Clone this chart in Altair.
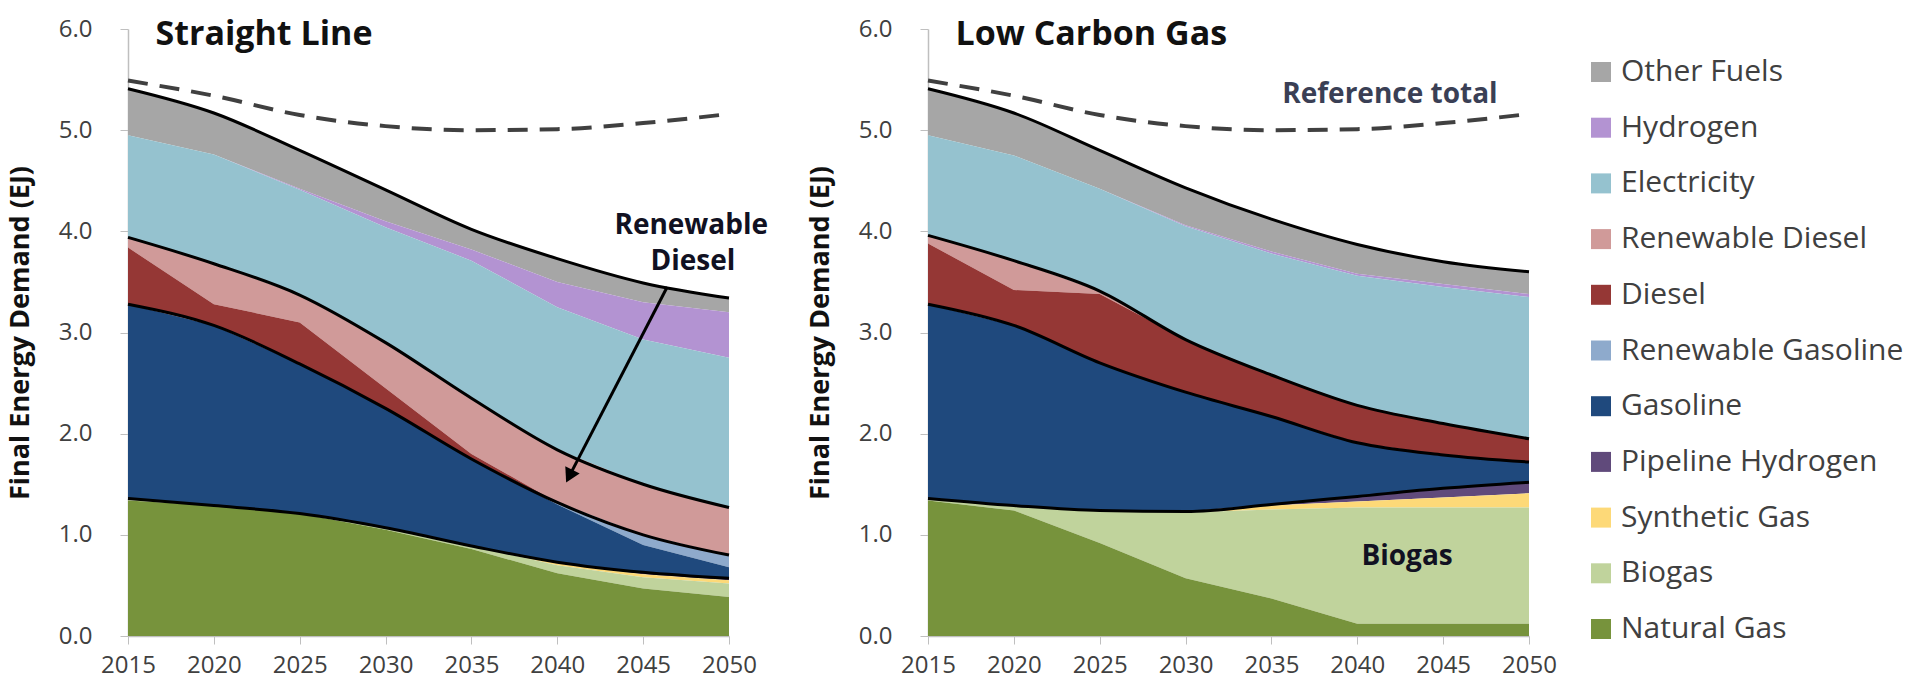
import altair as alt
import pandas as pd

years = [2015, 2020, 2025, 2030, 2035, 2040, 2045, 2050]
y_ticks = [0, 1, 2, 3, 4, 5, 6]

fuels = ["Other Fuels", "Hydrogen", "Electricity", "Renewable Diesel", "Diesel",
         "Renewable Gasoline", "Gasoline", "Pipeline Hydrogen", "Synthetic Gas",
         "Biogas", "Natural Gas"]
colors = ["#a6a6a6", "#b393d2", "#95c2cf", "#d09a99", "#953735", "#8eaacc",
          "#1f497d", "#604a7b", "#fdd978", "#c0d39c", "#77933c"]

# --- Straight Line scenario (EJ, layer thickness) ---
sl_other = [0.46, 0.41, 0.38, 0.31, 0.20, 0.23, 0.19, 0.14]
sl_hydrogen = [0.00, 0.00, 0.01, 0.06, 0.11, 0.25, 0.37, 0.45]
sl_electricity = [1.01, 1.08, 1.04, 1.14, 1.36, 1.41, 1.43, 1.48]
sl_ren_diesel = [0.10, 0.40, 0.27, 0.45, 0.55, 0.52, 0.50, 0.47]
sl_diesel = [0.56, 0.21, 0.41, 0.20, 0.05, 0.00, 0.00, 0.00]
sl_ren_gasoline = [0.00, 0.00, 0.00, 0.00, 0.00, 0.02, 0.10, 0.12]
sl_gasoline = [1.92, 1.78, 1.48, 1.18, 0.86, 0.57, 0.27, 0.11]
sl_pipeline_h2 = [0.00, 0.00, 0.00, 0.00, 0.00, 0.01, 0.02, 0.02]
sl_synthetic_gas = [0.00, 0.00, 0.00, 0.00, 0.00, 0.02, 0.03, 0.03]
sl_biogas = [0.02, 0.00, 0.00, 0.02, 0.03, 0.08, 0.11, 0.135]
sl_natural_gas = [1.34, 1.29, 1.21, 1.05, 0.86, 0.62, 0.47, 0.385]

# --- Low Carbon Gas scenario ---
lcg_other = [0.46, 0.42, 0.38, 0.37, 0.32, 0.29, 0.22, 0.22]
lcg_hydrogen = [0.00, 0.00, 0.00, 0.01, 0.02, 0.02, 0.03, 0.03]
lcg_electricity = [0.99, 1.04, 1.01, 1.12, 1.20, 1.28, 1.35, 1.40]
lcg_ren_diesel = [0.08, 0.29, 0.03, 0.00, 0.00, 0.00, 0.00, 0.00]
lcg_diesel = [0.60, 0.35, 0.68, 0.52, 0.41, 0.37, 0.31, 0.23]
lcg_ren_gasoline = [0.00, 0.00, 0.00, 0.00, 0.00, 0.00, 0.00, 0.00]
lcg_gasoline = [1.92, 1.78, 1.46, 1.18, 0.87, 0.53, 0.33, 0.20]
lcg_pipeline_h2 = [0.00, 0.00, 0.00, 0.00, 0.01, 0.05, 0.09, 0.11]
lcg_synthetic_gas = [0.00, 0.00, 0.00, 0.01, 0.04, 0.06, 0.10, 0.14]
lcg_biogas = [0.02, 0.05, 0.32, 0.65, 0.88, 1.15, 1.15, 1.15]
lcg_natural_gas = [1.34, 1.24, 0.92, 0.57, 0.37, 0.12, 0.12, 0.12]

reference_total = [5.49, 5.34, 5.15, 5.04, 5.00, 5.01, 5.07, 5.16]

FONT = "Open Sans"
TXT = "#404040"

sl = dict(zip(fuels, [sl_other, sl_hydrogen, sl_electricity, sl_ren_diesel, sl_diesel,
                      sl_ren_gasoline, sl_gasoline, sl_pipeline_h2, sl_synthetic_gas,
                      sl_biogas, sl_natural_gas]))
lcg = dict(zip(fuels, [lcg_other, lcg_hydrogen, lcg_electricity, lcg_ren_diesel, lcg_diesel,
                       lcg_ren_gasoline, lcg_gasoline, lcg_pipeline_h2, lcg_synthetic_gas,
                       lcg_biogas, lcg_natural_gas]))

groups = {
    "gas": ["Natural Gas", "Biogas", "Synthetic Gas", "Pipeline Hydrogen"],
    "gasoline": ["Gasoline", "Renewable Gasoline"],
    "liquids": ["Diesel", "Renewable Diesel"],
    "total": ["Electricity", "Hydrogen", "Other Fuels"],
}


def long_df(series):
    rows = []
    n = len(fuels)
    for i, f in enumerate(fuels):
        for yr, v in zip(years, series[f]):
            rows.append({"year": yr, "fuel": f, "value": v, "order": n - 1 - i})
    return pd.DataFrame(rows)


def boundary_df(series):
    rows = []
    for k, yr in enumerate(years):
        cum = 0.0
        for g, members in groups.items():
            cum += sum(series[m][k] for m in members)
            rows.append({"year": yr, "boundary": g, "cum": round(cum, 4)})
    return pd.DataFrame(rows)


x_enc = alt.X("year:Q", scale=alt.Scale(domain=[2015, 2050], nice=False, zero=False),
              axis=alt.Axis(values=years, format="d", title=None, labelFontSize=24,
                            labelFont=FONT, labelColor=TXT, domainColor="#bfbfbf",
                            tickColor="#bfbfbf", tickSize=8, labelPadding=9,
                            grid=False, labelFlush=False, domainWidth=1.5))
y_scale = alt.Scale(domain=[0, 6], nice=False)
y_axis = alt.Axis(values=y_ticks, format=".1f", title="Final Energy Demand (EJ)",
                  titleFontSize=27, titleFont=FONT, titleFontWeight="bold",
                  titleColor="#111111", titlePadding=24, labelFontSize=24,
                  labelFont=FONT, labelColor=TXT, domainColor="#bfbfbf",
                  tickColor="#bfbfbf", tickSize=8, labelPadding=28, grid=False,
                  domainWidth=1.5)


def panel(series, title, notes, arrow=None):
    df = long_df(series)
    area = alt.Chart(df).mark_area(interpolate="linear", opacity=1).encode(
        x=x_enc,
        y=alt.Y("value:Q", stack="zero", scale=y_scale, axis=y_axis),
        color=alt.Color("fuel:N", scale=alt.Scale(domain=fuels, range=colors),
                        legend=alt.Legend(title=None, orient="none", legendX=1458,
                                          legendY=28, symbolType="square",
                                          symbolSize=400, symbolOpacity=1,
                                          symbolStrokeWidth=0, labelFontSize=30,
                                          labelFont=FONT, labelColor=TXT,
                                          labelLimit=0, rowPadding=25.7,
                                          labelOffset=5)),
        order=alt.Order("order:Q", sort="ascending"),
    )
    lines = alt.Chart(boundary_df(series)).mark_line(
        color="black", strokeWidth=3, interpolate="monotone").encode(
        x="year:Q", y=alt.Y("cum:Q", stack=None), detail="boundary:N")
    ref = alt.Chart(pd.DataFrame({"year": years, "ref": reference_total})).mark_line(
        color="#404040", strokeWidth=4, strokeDash=[20, 12], interpolate="monotone").encode(
        x="year:Q", y="ref:Q")
    ttl = alt.Chart(pd.DataFrame({"year": [2016.6], "v": [5.94], "t": [title]})).mark_text(
        align="left", baseline="middle", font=FONT, fontSize=34, fontWeight="bold",
        color="#111111").encode(x="year:Q", y="v:Q", text="t:N")
    layers = [area, lines, ref, ttl]
    ndf = pd.DataFrame(notes)
    layers.append(alt.Chart(ndf).mark_text(
        align="center", baseline="middle", font=FONT, fontSize=28, fontWeight="bold").encode(
        x="year:Q", y="v:Q", text="t:N", color=alt.Color("c:N", scale=None)))
    if arrow is not None:
        adf = pd.DataFrame([arrow])
        layers.append(alt.Chart(adf).mark_rule(color="black", strokeWidth=3).encode(
            x="x1:Q", y="y1:Q", x2="x2:Q", y2="y2:Q"))
        layers.append(alt.Chart(adf).mark_point(
            shape="triangle-up", filled=True, color="black", size=260, opacity=1,
            angle=207).encode(x="x2:Q", y="y2:Q"))
    return alt.layer(*layers).properties(width=601, height=607)


left = panel(sl, "Straight Line",
             [{"year": 2047.8, "v": 4.05, "t": "Renewable", "c": "#111122"},
              {"year": 2047.9, "v": 3.70, "t": "Diesel", "c": "#111122"}],
             arrow={"x1": 2046.4, "y1": 3.45, "x2": 2040.7, "y2": 1.58})
right = panel(lcg, "Low Carbon Gas",
              [{"year": 2041.9, "v": 5.35, "t": "Reference total", "c": "#3a3f55"},
               {"year": 2042.9, "v": 0.78, "t": "Biogas", "c": "#111122"}])

chart = alt.hconcat(left, right, spacing=199, bounds="flush").properties(
    padding={"left": 6, "top": 17, "right": 5, "bottom": 5},
    background="white",
).configure_view(stroke=None)

chart.save("out.html", embed_options={"renderer": "svg", "actions": False})
